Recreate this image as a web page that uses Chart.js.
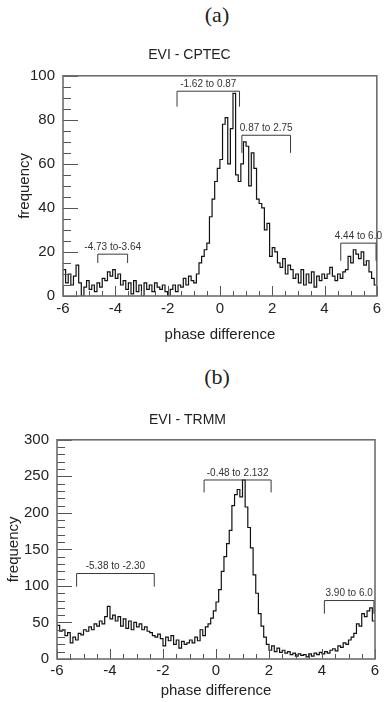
<!DOCTYPE html>
<html lang="en">
<head>
<meta charset="UTF-8">
<title>EVI phase difference histograms</title>
<script src="https://cdn.jsdelivr.net/npm/chart.js"></script>
<style>
  body { margin: 0; background: #fff; width: 385px; height: 702px; position: relative; overflow: hidden; }
  .panel { position: absolute; left: 217px; transform: translateX(-50%); font-family: 'Liberation Serif', 'Times New Roman', serif; font-size: 22px; line-height: 24px; color: #222; }
  #labelA { top: 3px; }
  #labelB { top: 365px; }
  canvas { position: absolute; left: 0; }
  #cptecChart { top: 30px; }
  #trmmChart { top: 380px; }
</style>
</head>
<body>
<div class="panel" id="labelA">(a)</div>
<canvas id="cptecChart" width="385" height="320"></canvas>
<div class="panel" id="labelB">(b)</div>
<canvas id="trmmChart" width="385" height="322"></canvas>

<script>
// histogram bins: left edge of the first bin and bin width (phase difference)
const binStart = -6;
const binWidth = 0.1;

// (a) EVI - CPTEC, counts per bin from -6.0 to 5.9
const cptecFreq = [
  12, 6, 10, 5, 9, 14, 6, 0, 4, 7,
  3, 5, 2, 6, 4, 8, 7, 11, 9, 12,
  8, 10, 5, 7, 3, 6, 1, 7, 2, 5,
  0, 6, 3, 5, 2, 6, 4, 3, 5, 2,
  0, 3, 5, 2, 5, 4, 8, 5, 9, 7,
  6, 10, 15, 18, 21, 24, 36, 44, 52, 58,
  62, 78, 81, 60, 76, 92, 55, 52, 60, 70,
  68, 50, 65, 58, 44, 42, 40, 30, 33, 18,
  22, 20, 15, 13, 17, 10, 14, 12, 8, 10,
  6, 12, 5, 10, 6, 11, 4, 9, 7, 10,
  8, 10, 13, 9, 7, 10, 8, 11, 12, 18,
  15, 21, 19, 17, 20, 14, 16, 11, 8, 5
];

// (b) EVI - TRMM, counts per bin from -6.0 to 5.9
const trmmFreq = [
  46, 38, 40, 32, 36, 22, 30, 26, 35, 33,
  40, 38, 44, 40, 48, 45, 52, 48, 58, 72,
  55, 60, 52, 58, 45, 55, 42, 52, 40, 50,
  44, 48, 40, 44, 38, 36, 32, 30, 34, 28,
  18, 30, 25, 32, 20, 26, 15, 24, 20, 22,
  26, 22, 30, 25, 40, 32, 44, 48, 56, 66,
  78, 95, 120, 140, 158, 176, 210, 225, 232, 222,
  245, 208, 180, 152, 115, 90, 62, 45, 30, 20,
  12, 18, 10, 15, 9, 12, 8, 10, 6, 8,
  4, 7, 5, 6, 3, 7, 4, 8, 6, 9,
  7, 10, 8, 12, 14, 11, 18, 16, 22, 20,
  26, 30, 35, 48, 45, 62, 58, 66, 70, 52
];

// bracketed ranges drawn over the histograms
const cptecRangeLabels = ['-4.73 to-3.64', '-1.62 to 0.87', '0.87 to 2.75', '4.44 to 6.0'];
const cptecRangeFrom = [-4.67, -1.64, 0.84, 4.62];
const cptecRangeTo = [-3.53, 0.75, 2.70, 5.97];
const cptecRangeTop = [19, 93, 73, 24];
const cptecRangeLeg = [15, 86, 65, 16];

const trmmRangeLabels = ['-5.38 to -2.30', '-0.48 to 2.132', '3.90 to 6.0'];
const trmmRangeFrom = [-5.26, -0.45, 4.09];
const trmmRangeTo = [-2.33, 2.08, 5.96];
const trmmRangeTop = [117, 245, 80];
const trmmRangeLeg = [99, 228, 62];

Chart.defaults.font.family = "'Liberation Sans', Arial, Helvetica, sans-serif";
Chart.defaults.color = '#222';

// step points: one at every bin's left edge, plus the closing edge
function histPoints(freq) {
  const pts = freq.map((v, i) => ({ x: +(binStart + i * binWidth).toFixed(2), y: v }));
  pts.push({ x: +(binStart + freq.length * binWidth).toFixed(2), y: freq[freq.length - 1] });
  return pts;
}

// frame, inside tick marks and the range brackets
function decorations(o) {
  return {
    id: 'decor',
    afterDatasetsDraw(chart) {
      const { ctx, chartArea: a, scales: { x, y } } = chart;
      ctx.save();

      ctx.strokeStyle = '#555';
      ctx.lineWidth = 1;
      ctx.beginPath();
      const nx = Math.round((x.max - x.min) / o.xMinor);
      for (let i = 0; i <= nx; i++) {
        const px = Math.round(x.getPixelForValue(x.min + i * o.xMinor)) + 0.5;
        const len = i % o.xPerMajor === 0 ? 10 : 5;
        ctx.moveTo(px, a.bottom);
        ctx.lineTo(px, a.bottom - len);
      }
      const ny = Math.round((y.max - y.min) / o.yMinor);
      for (let i = 0; i <= ny; i++) {
        const py = Math.round(y.getPixelForValue(y.min + i * o.yMinor)) + 0.5;
        const len = i % o.yPerMajor === 0 ? 15 : 8;
        ctx.moveTo(a.left, py);
        ctx.lineTo(a.left + len, py);
      }
      ctx.stroke();

      ctx.strokeStyle = '#6e6e6e';
      ctx.lineWidth = 1.6;
      ctx.strokeRect(a.left, a.top, a.right - a.left, a.bottom - a.top);

      ctx.strokeStyle = '#3a3a3a';
      ctx.lineWidth = 1;
      ctx.fillStyle = '#333';
      ctx.font = "10px 'Liberation Sans', Arial, sans-serif";
      ctx.textAlign = 'center';
      ctx.textBaseline = 'middle';
      o.labels.forEach((label, i) => {
        const x1 = x.getPixelForValue(o.from[i]);
        const x2 = x.getPixelForValue(o.to[i]);
        const yt = y.getPixelForValue(o.top[i]);
        const yl = y.getPixelForValue(o.leg[i]);
        ctx.beginPath();
        ctx.moveTo(x1, yl);
        ctx.lineTo(x1, yt);
        ctx.lineTo(x2, yt);
        ctx.lineTo(x2, yl);
        ctx.stroke();
        ctx.fillText(label, (x1 + x2) / 2, yt - 7);
      });
      ctx.restore();
    }
  };
}

function makeChart(id, freq, o) {
  return new Chart(document.getElementById(id), {
    type: 'line',
    data: {
      datasets: [{
        data: histPoints(freq),
        stepped: true,
        borderColor: '#111',
        borderWidth: 1.2,
        pointRadius: 0,
        fill: false
      }]
    },
    options: {
      responsive: false,
      animation: false,
      events: [],
      layout: { padding: { top: o.padTop, right: o.padRight, left: 0, bottom: 0 } },
      plugins: {
        legend: { display: false },
        tooltip: { enabled: false },
        title: {
          display: true,
          text: o.title,
          color: '#222',
          font: { size: 14, weight: 'normal' },
          padding: { top: 0, bottom: o.titleGap }
        }
      },
      scales: {
        x: {
          type: 'linear',
          min: -6,
          max: 6,
          grid: { display: false, drawTicks: false },
          border: { display: false },
          ticks: { stepSize: 2, padding: o.xTickPad, maxRotation: 0, font: { size: o.tickSize } },
          title: { display: true, text: 'phase difference', font: { size: 15 }, padding: { top: 0, bottom: o.xTitlePad } },
          afterFit: s => { s.height = o.xAxisHeight; }
        },
        y: {
          min: 0,
          max: o.yMax,
          grid: { display: false, drawTicks: false },
          border: { display: false },
          ticks: { stepSize: o.yStep, padding: 8, font: { size: o.tickSize } },
          title: { display: true, text: 'frequency', font: { size: 15 }, padding: { top: o.yTitlePad, bottom: 0 } },
          afterFit: s => { s.width = o.yAxisWidth; }
        }
      }
    },
    plugins: [decorations(o)]
  });
}

makeChart('cptecChart', cptecFreq, {
  title: 'EVI - CPTEC',
  padTop: 17, padRight: 6, titleGap: 12,
  yMax: 100, yStep: 20, yMinor: 5, yPerMajor: 4,
  xMinor: 0.5, xPerMajor: 4,
  tickSize: 15, xTickPad: 4, xTitlePad: 6, yTitlePad: 16,
  xAxisHeight: 54, yAxisWidth: 63,
  labels: cptecRangeLabels, from: cptecRangeFrom, to: cptecRangeTo, top: cptecRangeTop, leg: cptecRangeLeg
});

makeChart('trmmChart', trmmFreq, {
  title: 'EVI - TRMM',
  padTop: 32, padRight: 10, titleGap: 11,
  yMax: 300, yStep: 50, yMinor: 10, yPerMajor: 5,
  xMinor: 0.5, xPerMajor: 4,
  tickSize: 15, xTickPad: 3, xTitlePad: 2, yTitlePad: 5,
  xAxisHeight: 43, yAxisWidth: 57,
  labels: trmmRangeLabels, from: trmmRangeFrom, to: trmmRangeTo, top: trmmRangeTop, leg: trmmRangeLeg
});
</script>
</body>
</html>
